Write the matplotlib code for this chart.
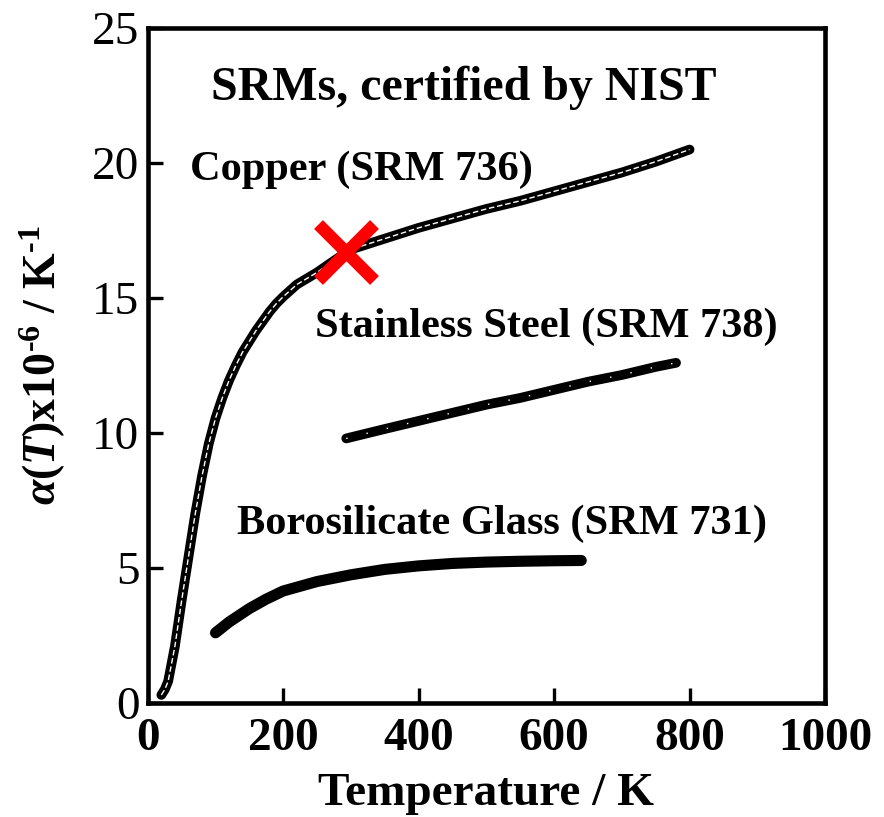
import matplotlib
matplotlib.use('Agg')

import matplotlib.pyplot as plt

# thermal expansion coefficients of the NIST reference materials (x1e-6 / K)
copper_T = [20, 25, 30, 40, 50, 60, 70, 80, 90, 100, 110, 120, 130, 140, 150,
            160, 170, 180, 190, 200, 220, 250, 273, 300, 350, 400, 450, 500,
            550, 600, 650, 700, 750, 800]
copper_alpha = [0.3, 0.5, 0.8, 2.1, 3.8, 5.4, 7.0, 8.4, 9.6, 10.55, 11.3, 11.95,
                12.5, 13.0, 13.4, 13.8, 14.15, 14.5, 14.8, 15.05, 15.5, 15.95,
                16.35, 16.8, 17.2, 17.6, 17.95, 18.3, 18.6, 18.95, 19.3, 19.65,
                20.05, 20.5]

steel_T = [293, 350, 400, 450, 500, 550, 600, 650, 700, 750, 780]
steel_alpha = [9.8, 10.15, 10.45, 10.75, 11.05, 11.3, 11.6, 11.9, 12.15, 12.45, 12.6]

glass_T = [100, 120, 150, 175, 200, 250, 300, 350, 400, 450, 500, 550, 600, 640]
glass_alpha = [2.6, 3.0, 3.5, 3.85, 4.15, 4.5, 4.75, 4.95, 5.08, 5.17, 5.22,
               5.25, 5.27, 5.28]

room_T = 293
room_alpha = 16.7

x_ticks = [0, 200, 400, 600, 800, 1000]
y_ticks = [0, 5, 10, 15, 20, 25]

plt.rcParams['font.family'] = 'Liberation Serif'
plt.rcParams['mathtext.fontset'] = 'custom'
plt.rcParams['mathtext.rm'] = 'Liberation Serif:bold'
plt.rcParams['mathtext.it'] = 'Liberation Serif:italic:bold'
plt.rcParams['mathtext.bf'] = 'Liberation Serif:bold'

fig = plt.figure(figsize=(8.84, 8.17), dpi=100)
ax = fig.add_axes([0.1672, 0.1395, 0.7661, 0.8262])

# thick black traces with a thin white core
ax.plot(copper_T, copper_alpha, color='black', lw=7, solid_capstyle='round', zorder=2)
ax.plot(copper_T, copper_alpha, color='white', lw=1, ls=(0, (4, 2)), zorder=3)
ax.plot(steel_T, steel_alpha, color='black', lw=7, solid_capstyle='round', zorder=2)
ax.plot(steel_T, steel_alpha, color='white', lw=1, ls=(0, (1, 14)), zorder=3)
ax.plot(glass_T, glass_alpha, color='black', lw=8, solid_capstyle='round', zorder=2)

ax.plot([room_T], [room_alpha], marker='x', color='red', ms=40, mew=9, zorder=4)

ax.set_xlim(0, 1000)
ax.set_ylim(0, 25)
ax.set_xticks(x_ticks)
ax.set_yticks(y_ticks)
for spine in ax.spines.values():
    spine.set_linewidth(3.3)
ax.tick_params(direction='in', length=11, width=2.4, labelsize=34)
ax.tick_params(axis='y', pad=6)
ax.tick_params(axis='x', pad=11)
for lbl in ax.get_xticklabels():
    lbl.set_fontweight('bold')

ax.set_xlabel('Temperature / K', fontsize=34, fontweight='bold', labelpad=9)
ax.set_ylabel(r'$\alpha(T)$x10$^{\text{-}6}$ / K$^{\text{-}1}$', fontsize=33,
              fontweight='bold', labelpad=17)

ax.text(466, 22.8, 'SRMs, certified by NIST', fontsize=34.5, fontweight='bold',
        ha='center', va='center')
ax.text(63, 19.75, 'Copper (SRM 736)', fontsize=30.5, fontweight='bold',
        ha='left', va='center')
ax.text(247, 13.95, 'Stainless Steel (SRM 738)', fontsize=30.5, fontweight='bold',
        ha='left', va='center')
ax.text(132, 6.65, 'Borosilicate Glass (SRM 731)', fontsize=30.5, fontweight='bold',
        ha='left', va='center')

fig.savefig('out.png', dpi=100)
